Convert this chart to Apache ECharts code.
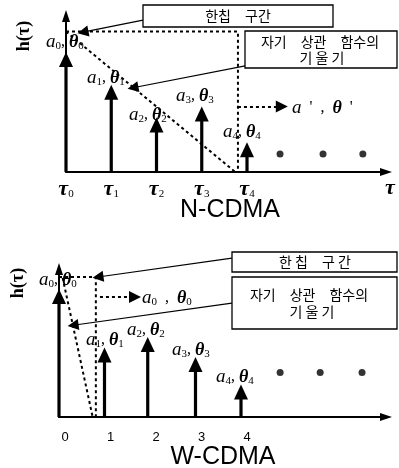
<!DOCTYPE html>
<html>
<head>
<meta charset="UTF-8">
<title></title>
<style>html,body{margin:0;padding:0;background:#fff}</style>
</head>
<body>
<div id="main" style="width:399px;height:468px;"></div>
<script src="https://cdn.jsdelivr.net/npm/echarts@6/dist/echarts.min.js"></script>
<script>
// N-CDMA (top) : stem positions and amplitudes
var nTau = [0, 1, 2, 3, 4];
var nAmp = [0.77, 0.56, 0.35, 0.42, 0.19];
var nDotX = [4.73, 5.68, 6.56];
var nDotY = 0.115;
var nTickLabels = ['0', '1', '2', '3', '4'];
var nChip = [[0, 0.90], [3.80, 0.90], [3.80, 0]];
var nSlope = [[0, 0.90], [3.74, 0]];
var nOut = [[3.80, 0.42], [4.77, 0.42]];
var nCallouts = [[[1.70, 0.974], [0.376, 0.897]], [[3.96, 0.68], [1.48, 0.54]]];

// W-CDMA (bottom)
var wTau = [0, 1, 1.95, 3, 4];
var wAmp = [0.865, 0.47, 0.54, 0.405, 0.22];
var wDotX = [4.86, 5.74, 6.66];
var wDotY = 0.30;
var wTickLabels = ['0', '1', '2', '3', '4'];
var wChip = [[0, 0.946], [0.81, 0.946], [0.81, 0]];
var wSlope = [[0.08, 0.94], [0.74, 0]];
var wOut = [[0.90, 0.81], [1.67, 0.81]];
var wCallouts = [[[3.80, 1.074], [0.857, 0.946]], [[3.80, 0.77], [0.31, 0.62]]];

var serif = 'Liberation Serif';
var kr = 'Noto Sans CJK KR';

function pairs(xs, ys) {
    return xs.map(function (x, i) { return [x, Array.isArray(ys) ? ys[i] : ys]; });
}

function renderStem(params, api) {
    var x = api.value(0), h = api.value(1);
    var base = api.coord([x, 0]);
    var tip = api.coord([x, h]);
    var aw = 7, ah = 15;
    return {
        type: 'group',
        children: [
            {type: 'line', shape: {x1: base[0], y1: base[1], x2: tip[0], y2: tip[1] + ah - 2},
             style: {stroke: '#000', lineWidth: 3.2}},
            {type: 'polygon', shape: {points: [[tip[0], tip[1]], [tip[0] - aw, tip[1] + ah], [tip[0] + aw, tip[1] + ah]]},
             style: {fill: '#000'}}
        ]
    };
}

var labRich = {
    a: {fontFamily: serif, fontStyle: 'italic', fontSize: 19, fill: '#000'},
    c: {fontFamily: serif, fontSize: 16, fill: '#000'},
    t: {fontFamily: serif, fontStyle: 'italic', fontWeight: 'bold', fontSize: 18, fill: '#000'},
    s: {fontFamily: serif, fontSize: 11, fill: '#000', padding: [9, 0, 0, 0]}
};

function lab(i) {
    return '{a|a}{s|' + i + '}{c|, }{t|θ}{s|' + i + '}';
}

function textEl(x, y, text) {
    return {type: 'text', z: 20, style: {x: x, y: y, text: text, fill: '#000', verticalAlign: 'middle', rich: labRich}};
}

function box(x, y, w, h) {
    return {type: 'rect', shape: {x: x, y: y, width: w, height: h},
            style: {fill: '#fff', stroke: '#000', lineWidth: 1.3}, z: 15};
}

function krText(x, y, text) {
    return {type: 'text', z: 20, style: {x: x, y: y, text: text, fill: '#000', align: 'center', verticalAlign: 'middle',
            font: '14px "' + kr + '"'}};
}

function xAxisFor(gi, max, labels, tau) {
    return {
        type: 'value', gridIndex: gi, min: 0, max: max, interval: 1,
        axisLine: {show: true, symbol: ['none', 'triangle'], symbolSize: [8, 12],
                   lineStyle: {color: '#000', width: 2}},
        axisTick: {show: false}, splitLine: {show: false},
        axisLabel: tau ? {
            margin: 6, showMaxLabel: false,
            formatter: function (v) { return v < labels.length ? '{t|τ}{s|' + labels[v] + '}' : ''; },
            rich: {
                t: {fontFamily: serif, fontStyle: 'italic', fontWeight: 'bold', fontSize: 22, color: '#000'},
                s: {fontFamily: serif, fontSize: 11, color: '#000', padding: [10, 0, 0, 0]}
            }
        } : {
            margin: 14, showMaxLabel: false, padding: [0, 0, 0, 12],
            fontFamily: 'Liberation Sans', fontSize: 13, color: '#000',
            formatter: function (v) { return v < labels.length ? labels[v] : ''; }
        }
    };
}

function yAxisFor(gi, gap, shift) {
    return {
        type: 'value', gridIndex: gi, min: 0, max: 1,
        name: 'h(τ)', nameLocation: 'end', nameRotate: 90, nameGap: gap, nameMoveOverlap: false,
        nameTextStyle: {fontFamily: serif, fontWeight: 'bold', fontSize: 18, color: '#000',
                        align: 'center', verticalAlign: 'bottom', lineHeight: shift},
        axisLine: {show: true, symbol: ['none', 'triangle'], symbolSize: [8, 12],
                   lineStyle: {color: '#000', width: 2}},
        axisTick: {show: false}, axisLabel: {show: false}, splitLine: {show: false}
    };
}

function dotted(gi, coords) {
    return {
        type: 'lines', coordinateSystem: 'cartesian2d', xAxisIndex: gi, yAxisIndex: gi,
        polyline: true, clip: false, silent: true, symbol: 'none',
        lineStyle: {color: '#000', width: 2, type: [3, 3], opacity: 1},
        data: [{coords: coords}], z: 5
    };
}

function dottedArrow(gi, coords) {
    return {
        type: 'lines', coordinateSystem: 'cartesian2d', xAxisIndex: gi, yAxisIndex: gi,
        clip: false, silent: true,
        symbol: ['none', 'triangle'], symbolSize: 12,
        lineStyle: {color: '#000', width: 2, type: [3, 3], opacity: 1},
        data: [{coords: coords}], z: 5
    };
}

function callouts(gi, list) {
    return {
        type: 'lines', coordinateSystem: 'cartesian2d', xAxisIndex: gi, yAxisIndex: gi,
        clip: false, silent: true,
        symbol: ['none', 'triangle'], symbolSize: 11,
        lineStyle: {color: '#000', width: 1.2, opacity: 1},
        data: list.map(function (c) { return {coords: c}; }), z: 6
    };
}

var chart = echarts.init(document.getElementById('main'));
chart.setOption({
    animation: false,
    backgroundColor: '#fff',
    grid: [
        {left: 66, top: 16, width: 320, height: 156, containLabel: false, outerBoundsMode: 'none'},
        {left: 59, top: 269, width: 327, height: 148, containLabel: false, outerBoundsMode: 'none'}
    ],
    xAxis: [xAxisFor(0, 320 / 45.25, nTickLabels, true), xAxisFor(1, 327 / 45.5, wTickLabels, false)],
    yAxis: [yAxisFor(0, -20, 84), yAxisFor(1, -14, 82)],
    series: [
        {type: 'custom', xAxisIndex: 0, yAxisIndex: 0, renderItem: renderStem, data: pairs(nTau, nAmp), z: 8},
        {type: 'custom', xAxisIndex: 1, yAxisIndex: 1, renderItem: renderStem, data: pairs(wTau, wAmp), z: 8},
        {type: 'scatter', xAxisIndex: 0, yAxisIndex: 0, symbolSize: 7, itemStyle: {color: '#000'}, data: pairs(nDotX, nDotY)},
        {type: 'scatter', xAxisIndex: 1, yAxisIndex: 1, symbolSize: 7, itemStyle: {color: '#000'}, data: pairs(wDotX, wDotY)},
        dotted(0, nChip), dotted(0, nSlope), dottedArrow(0, nOut),
        dotted(1, wChip), dotted(1, wSlope), dottedArrow(1, wOut),
        callouts(0, nCallouts), callouts(1, wCallouts)
    ],
    graphic: [
        // top panel
        box(143, 5, 190, 22), krText(238, 16, '한칩\u3000구간'),
        box(245, 31, 152, 37), krText(320, 42, '자기\u3000상관\u3000함수의'), krText(322, 58, '기 울 기'),
        textEl(46, 42, lab(0)), textEl(87, 78, lab(1)), textEl(129, 115, lab(2)),
        textEl(176, 96, lab(3)), textEl(223, 132, lab(4)),
        textEl(292, 108, "{a|a}{c|  '  ,  }{t|θ}{c|  '}"),
        {type: 'text', z: 20, style: {x: 390, y: 188, text: 'τ', fill: '#000', align: 'center', verticalAlign: 'middle',
            font: 'italic bold 22px "' + serif + '"'}},
        {type: 'text', z: 20, style: {x: 230, y: 210, text: 'N-CDMA', fill: '#000', align: 'center', verticalAlign: 'middle',
            font: '25px "Liberation Sans"'}},
        // bottom panel
        box(232, 252, 165, 20), krText(315, 262, '한 칩\u3000구 간'),
        box(232, 277, 165, 52), krText(309, 295, '자기\u3000상관\u3000함수의'), krText(312, 312, '기 울 기'),
        textEl(39, 280, lab(0)), textEl(142, 298, "{a|a}{s|0}{c|  ,  }{t|θ}{s|0}"),
        textEl(86, 340, lab(1)), textEl(127, 330, lab(2)),
        textEl(172, 350, lab(3)), textEl(216, 377, lab(4)),
        {type: 'text', z: 20, style: {x: 223, y: 457, text: 'W-CDMA', fill: '#000', align: 'center', verticalAlign: 'middle',
            font: '25px "Liberation Sans"'}}
    ]
});
</script>
</body>
</html>
